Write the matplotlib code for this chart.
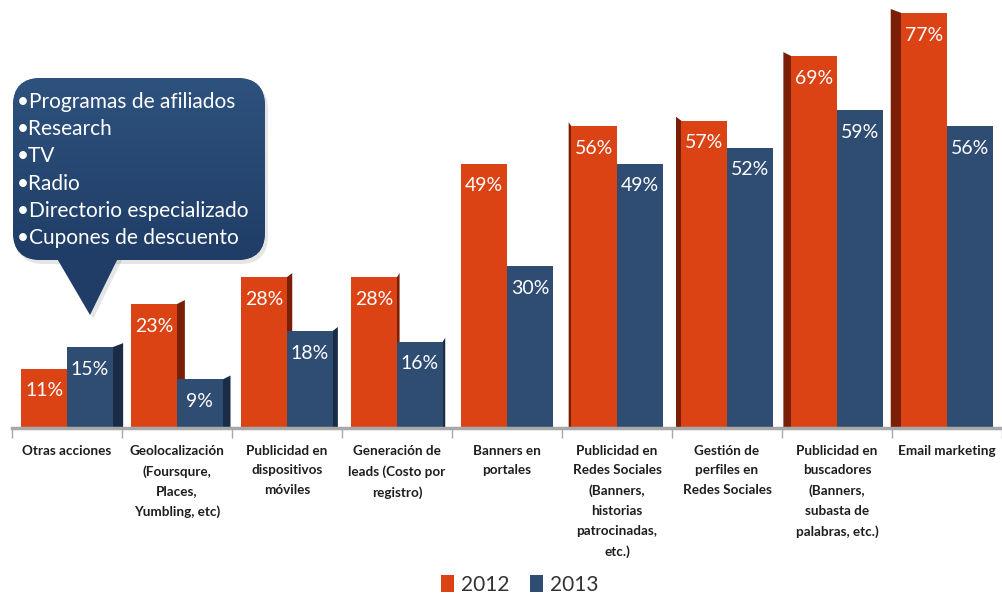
import matplotlib
matplotlib.use('Agg')
import matplotlib.pyplot as plt
import numpy as np
from matplotlib.patches import Polygon, FancyBboxPatch, Patch

# Data
categories = ['Otras acciones',
              'Geolocalización\n(Foursqure,\nPlaces,\nYumbling, etc)',
              'Publicidad en\ndispositivos\nmóviles',
              'Generación de\nleads (Costo por\nregistro)',
              'Banners en\nportales',
              'Publicidad en\nRedes Sociales\n(Banners,\nhistorias\npatrocinadas,\netc.)',
              'Gestión de\nperfiles en\nRedes Sociales',
              'Publicidad en\nbuscadores\n(Banners,\nsubasta de\npalabras, etc.)',
              'Email marketing']
values_2012 = [11, 23, 28, 28, 49, 56, 57, 69, 77]
values_2013 = [15, 9, 18, 16, 30, 49, 52, 59, 56]
years = ['2012', '2013']
otras_items = ['Programas de afiliados', 'Research', 'TV', 'Radio',
               'Directorio especializado', 'Cupones de descuento']

# Colors
orange, orange_side = '#DB4314', '#7A1E06'
blue, blue_side = '#2F4D73', '#1B2D46'
font = ['Lato', 'DejaVu Sans']

W, H = 1002, 597
fig = plt.figure(figsize=(W / 100, H / 100), dpi=100)
fig.patch.set_facecolor('white')

# main axes: category slots are 111.2 px wide, 1% is 5.39 px
left_px, base_px, slot_px, pct_px = 12, 428, 111.2, 5.39
ax = fig.add_axes([left_px / W, (H - base_px) / H, (W - left_px) / W, base_px / H])
ax.set_xlim(0, (W - left_px) / slot_px)
ax.set_ylim(0, base_px / pct_px)

bw = 0.415
x = np.arange(len(categories))
x12 = x + 0.5 - bw
x13 = x + 0.5

# 3D side faces, pointing toward the middle of the chart
dy = 4 / pct_px
for i in range(len(categories)):
    cx = left_px + (i + 0.5) * slot_px
    d = -0.024 * (cx - 510) / slot_px
    for xs, v, c in [(x12[i], values_2012[i], orange_side), (x13[i], values_2013[i], blue_side)]:
        xe = xs + bw if d > 0 else xs
        ax.add_patch(Polygon([(xe, 0), (xe, v), (xe + d, v + dy), (xe + d, 0)],
                             closed=True, fc=c, ec='none', zorder=1))

ax.bar(x12, values_2012, width=bw, align='edge', color=orange, zorder=2)
ax.bar(x13, values_2013, width=bw, align='edge', color=blue, zorder=2)

for xs, vals in [(x12, values_2012), (x13, values_2013)]:
    for xi, v in zip(xs, vals):
        ax.text(xi + bw / 2, v - 4.1, f'{v}%', ha='center', va='center',
                color='white', fontsize=14, family=font, zorder=3)

for s in ['top', 'right', 'left']:
    ax.spines[s].set_visible(False)
ax.spines['bottom'].set_color('#A8A8A8')
ax.spines['bottom'].set_linewidth(2.5)
ax.set_yticks([])
ax.set_xticks(np.arange(len(categories) + 1))
ax.set_xticklabels([])
ax.tick_params(axis='x', which='major', length=7, width=1, color='#A8A8A8')
ax.set_xticks(x + 0.5, minor=True)
ax.set_xticklabels(categories, minor=True, fontsize=9.7, fontweight='bold',
                   family=font, color='#1E1E1E', linespacing=1.78, va='top')
ax.tick_params(axis='x', which='minor', length=0, pad=12)

# overlay in pixel coordinates for the callout bubble
ov = fig.add_axes([0, 0, 1, 1], zorder=5)
ov.set_xlim(0, W)
ov.set_ylim(H, 0)
ov.axis('off')
ov.patch.set_alpha(0)

grad = np.linspace(0, 1, 256).reshape(-1, 1)
cmap = matplotlib.colors.LinearSegmentedColormap.from_list('bub', ['#2E527E', '#1F3D66'])

box = FancyBboxPatch((13, 78), 252, 182, boxstyle='round,pad=0,rounding_size=28',
                     fc='#27476F', ec='none')
tri = Polygon([(52, 250), (122, 250), (90, 315)], closed=True, fc='#1F3D66', ec='none')
shadow_box = FancyBboxPatch((16, 82), 252, 182, boxstyle='round,pad=0,rounding_size=28',
                            fc='#000000', alpha=0.10, ec='none')
shadow_tri = Polygon([(55, 254), (125, 254), (93, 319)], closed=True, fc='#000000',
                     alpha=0.10, ec='none')
for p in [shadow_box, shadow_tri, box, tri]:
    ov.add_patch(p)
im = ov.imshow(grad, cmap=cmap, vmin=0, vmax=1, extent=(13, 265, 260, 78),
               aspect='auto', zorder=2)
im.set_clip_path(box)
ov.set_xlim(0, W)
ov.set_ylim(H, 0)

for k, item in enumerate(otras_items):
    ov.text(17, 102 + k * 27.2, '•' + item, color='white', fontsize=15,
            family=font, va='center', ha='left', zorder=3)

# legend
handles = [Patch(fc=orange, ec='none'), Patch(fc=blue, ec='none')]
fig.legend(handles, years, loc='lower center', bbox_to_anchor=(0.519, -0.028), ncol=2,
           frameon=False, handlelength=0.6, handleheight=0.85, handletextpad=0.35,
           columnspacing=1.0, prop={'family': font, 'size': 15}, labelcolor='#333333')

fig.savefig('out.png', dpi=100)
